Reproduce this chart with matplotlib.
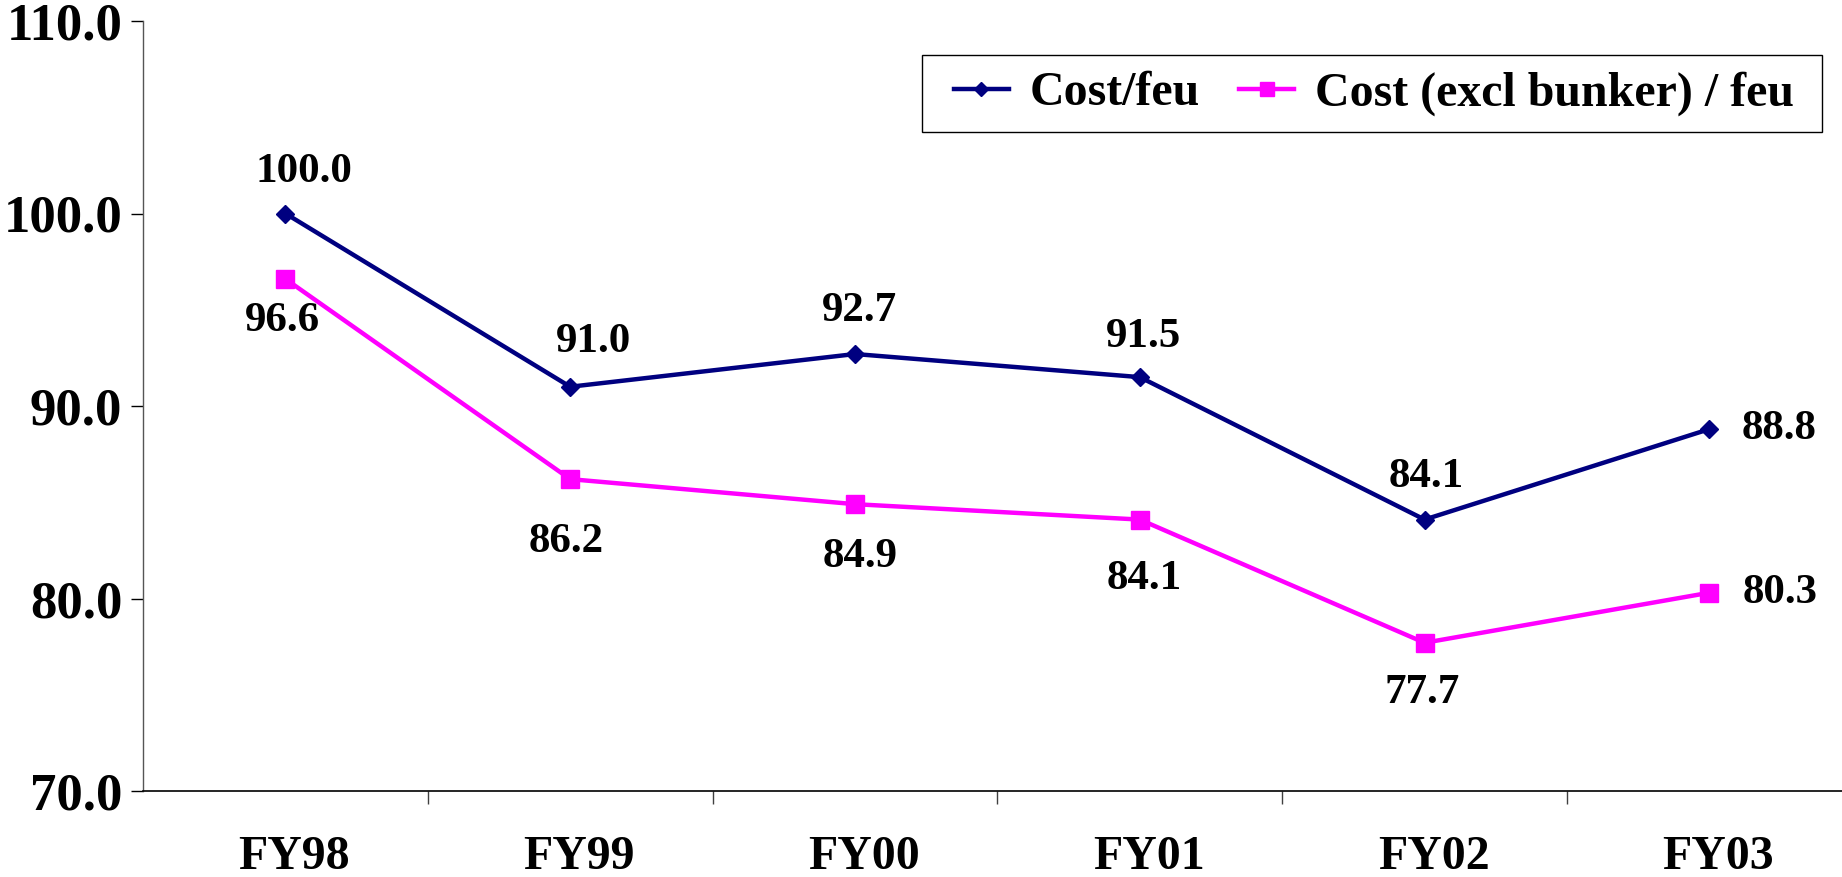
import matplotlib
matplotlib.use("Agg")
import matplotlib.pyplot as plt
from matplotlib.patches import Rectangle
from matplotlib.ticker import FixedLocator, FormatStrFormatter
from matplotlib.transforms import ScaledTranslation

plt.rcParams['font.family'] = ['Liberation Serif', 'DejaVu Serif']
plt.rcParams['font.weight'] = 'bold'

years = ["FY98", "FY99", "FY00", "FY01", "FY02", "FY03"]
cost_per_feu = [100.0, 91.0, 92.7, 91.5, 84.1, 88.8]
cost_excl_bunker = [96.6, 86.2, 84.9, 84.1, 77.7, 80.3]
series_names = ["Cost/feu", "Cost (excl bunker) / feu"]

# label offsets in points (dx, dy) for each data label
navy_offsets = [(13, 30), (17, 32), (3, 31), (3, 29), (1, 31), (50, 0)]
pink_offsets = [(-2, -30), (-3, -45), (4, -38), (3, -43), (-2, -36), (51, 0)]

NAVY = "#000080"
PINK = "#FF00FF"
W, H = 1842, 877

fig = plt.figure(figsize=(W / 100, H / 100), dpi=100)
left = 143 / W
width = 6 * 284.8 / W
bottom = (H - 791) / H
top = (H - 21) / H
ax = fig.add_axes([left, bottom, width, top - bottom])

x = list(range(len(years)))
ax.plot(x, cost_per_feu, color=NAVY, lw=3.2, marker="D", markersize=9.5,
        label=series_names[0], zorder=3)
ax.plot(x, cost_excl_bunker, color=PINK, lw=3.2, marker="s", markersize=12.5,
        label=series_names[1], zorder=3)

for xi, v, (dx, dy) in zip(x, cost_per_feu, navy_offsets):
    ax.annotate(f"{v:.1f}", (xi, v), xytext=(dx, dy), textcoords="offset points",
                ha="center", va="center", fontsize=31, fontweight="bold")
for xi, v, (dx, dy) in zip(x, cost_excl_bunker, pink_offsets):
    ax.annotate(f"{v:.1f}", (xi, v), xytext=(dx, dy), textcoords="offset points",
                ha="center", va="center", fontsize=31, fontweight="bold")

ax.set_xlim(-0.5, len(years) - 0.5)
ax.set_ylim(70, 110)
ax.set_yticks([70, 80, 90, 100, 110])
ax.yaxis.set_major_formatter(FormatStrFormatter("%.1f"))
ax.tick_params(axis="y", direction="out", length=9, width=1, pad=6,
               labelsize=38, colors="black")
for lbl in ax.get_yticklabels():
    lbl.set_fontweight("bold")

ax.set_xticks(x)
ax.set_xticklabels(years, fontsize=34.5, fontweight="bold")
ax.tick_params(axis="x", which="major", length=0, pad=32)
shift = ScaledTranslation(9 / 100, 0, fig.dpi_scale_trans)
for lbl in ax.get_xticklabels():
    lbl.set_transform(lbl.get_transform() + shift)
ax.xaxis.set_minor_locator(FixedLocator([i + 0.5 for i in x]))
ax.tick_params(axis="x", which="minor", direction="out", length=9, width=1,
               color="#404040")

for side in ("top", "right"):
    ax.spines[side].set_visible(False)
ax.spines["left"].set_color("#555555")
ax.spines["left"].set_linewidth(1)
ax.spines["bottom"].set_color("black")
ax.spines["bottom"].set_linewidth(1.2)

# legend frame and entries
box_l, box_r, box_t, box_b = 922, 1822, 55, 132
fig.patches.append(Rectangle((box_l / W, 1 - box_b / H), (box_r - box_l) / W,
                             (box_b - box_t) / H, transform=fig.transFigure,
                             facecolor="white", edgecolor="black", lw=1,
                             zorder=4))
leg = fig.legend(loc="center left",
                 bbox_to_anchor=(954 / W, 1 - (box_t + box_b) / 2 / H),
                 borderaxespad=0, borderpad=0, ncol=2, fontsize=34.5,
                 frameon=False, handlelength=1.14, handletextpad=0.44,
                 columnspacing=0.82, markerscale=0.78)
leg.set_zorder(5)
for t in leg.get_texts():
    t.set_fontweight("bold")

fig.savefig("out.png", dpi=100, facecolor="white")
